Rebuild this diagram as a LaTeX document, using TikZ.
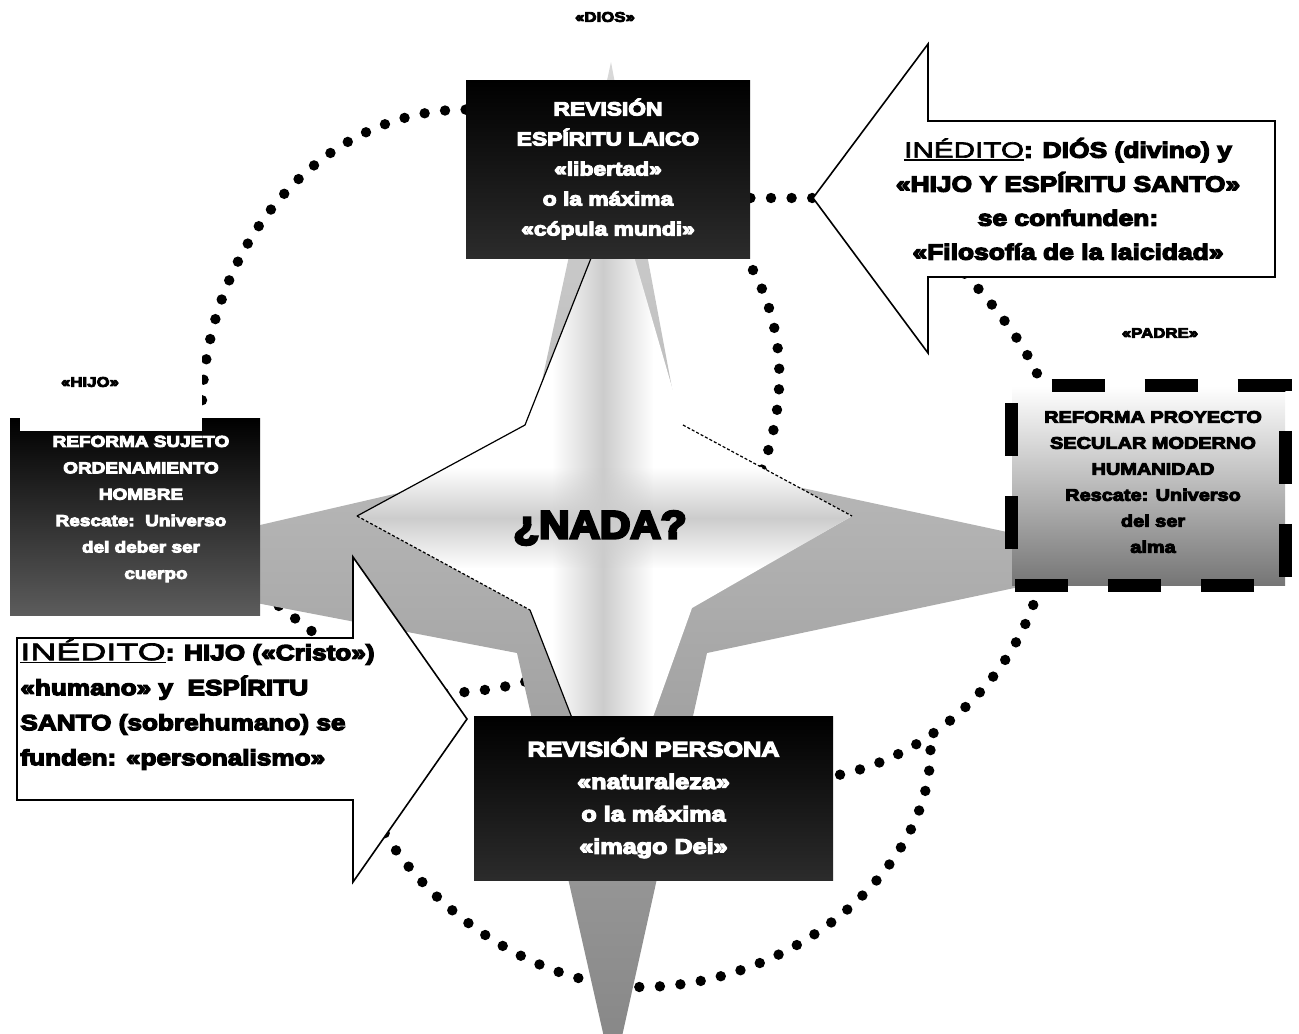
\documentclass[tikz,border=0pt]{standalone}
\usepackage{fontspec}
\setmainfont{Liberation Sans}
\newfontfamily\blk{Liberation Sans}[FakeStretch=1.2,BoldFeatures={FakeBold=6}]
\newfontfamily\nadaf{Liberation Sans}[FakeStretch=1.08,BoldFeatures={FakeBold=7}]
\newfontfamily\inedl{Liberation Sans}[FakeStretch=1.5,UprightFeatures={FakeBold=3}]
\newfontfamily\inedr{Liberation Sans}[FakeStretch=1.35,UprightFeatures={FakeBold=3}]
\usetikzlibrary{fadings}
\newsavebox\ulbox
\newcommand\myul[1]{\sbox\ulbox{#1}\rlap{\rule[-1.6pt]{\wd\ulbox}{0.9pt}}\usebox\ulbox}
\definecolor{gtop}{gray}{0.85}
\definecolor{gbot}{gray}{0.52}
\definecolor{dk}{gray}{0.17}
\definecolor{lbot}{gray}{0.36}
\definecolor{rbot}{gray}{0.46}
\pgfdeclarelayer{dotl}
\pgfdeclarelayer{starl}
\pgfsetlayers{dotl,starl,main}
\tikzfading[name=hband,left color=transparent!100,right color=transparent!100,middle color=transparent!0]
\tikzfading[name=vband,top color=transparent!100,bottom color=transparent!100,middle color=transparent!0]
\begin{document}
\begin{tikzpicture}[x=0.5pt,y=-0.5pt,
  dots/.style={line width=5.2pt,line cap=round,dash pattern=on 0pt off 10.3pt},
  darkbox/.style={rectangle,inner sep=0pt,top color=black,bottom color=dk,text=white,align=center},
  arrowshape/.style={draw=black,line width=0.8pt,fill=white,line join=miter},
  lbl/.style={font=\blk\bfseries\fontsize{7}{8}\selectfont,inner sep=0pt},
  txt/.style={align=center,inner sep=0pt},
  starline/.style={draw=black,line width=0.6pt},
]
\useasboundingbox (0,0) rectangle (1299,1033);

% ---------- star (background layer) ----------
\begin{pgfonlayer}{starl}
\shade[top color=gtop,bottom color=gbot] (611,62) -- (686,463) -- (1142,561) -- (707,653) -- (613,1077) -- (517,653) -- (74,568) -- (524,464) -- cycle;
\begin{scope}
\clip (616,195) -- (683,425) -- (852,516) -- (692,608) -- (614,826) -- (530,610) -- (357,516) -- (525,425) -- cycle;
\fill[white] (300,150) rectangle (900,900);
\fill[gray!40,path fading=hband] (553,150) rectangle (653,900);
\fill[gray!40,path fading=vband] (300,468) rectangle (900,568);
\end{scope}
\draw[starline] (357,516) -- (525,425) -- (616,195);
\draw[starline,dash pattern=on 1.5pt off 1pt] (683,425) -- (852,516);
\draw[starline,dash pattern=on 1.5pt off 1pt] (357,516) -- (530,610);
\draw[starline] (530,610) -- (614,826);
\end{pgfonlayer}

\node[font=\nadaf\bfseries\fontsize{19.5}{22}\selectfont,inner sep=0pt] (nada) at (600,528) {¿NADA?};

% ---------- boxes ----------
\node[darkbox,minimum width=142pt,minimum height=89pt,font=\blk\bfseries\fontsize{9.5}{15}\selectfont] (top) at (608,169)
  {REVISIÓN\\ESPÍRITU LAICO\\«libertad»\\o la máxima\\«cópula mundi»};

\node[darkbox,bottom color=lbot,minimum width=125pt,minimum height=98.5pt] (lbox) at (135,516.5) {};
\node[txt,text=white,font=\blk\bfseries\fontsize{7.9}{13.2}\selectfont] (ltxt) at (141,509)
  {REFORMA SUJETO\\ORDENAMIENTO\\HOMBRE\\Rescate:\ \ Universo\\del deber ser\\\hspace*{15pt}cuerpo};
\node[fill=white,inner sep=0pt,minimum width=91pt,minimum height=40.5pt] (hbox) at (111,390.5) {};
\node[lbl] (hijo) at (90,382) {«HIJO»};

\node[rectangle,inner sep=0pt,top color=white,bottom color=rbot,minimum width=136.5pt,minimum height=99.5pt] (rbox) at (1148.5,485.5) {};
\draw[line width=6.5pt,dash pattern=on 26.5pt off 20pt,dash phase=26.5pt]
  (rbox.north west) -- (rbox.north east) -- (rbox.south east) -- (rbox.south west) -- cycle;
\node[txt,font=\blk\bfseries\fontsize{8.3}{13}\selectfont] (rtxt) at (1153,482)
  {REFORMA PROYECTO\\SECULAR MODERNO\\HUMANIDAD\\Rescate: Universo\\del ser\\alma};
\node[lbl] (padre) at (1160,333) {«PADRE»};
\node[lbl] (dios) at (605,17) {«DIOS»};

\node[darkbox,minimum width=179.5pt,minimum height=82pt,font=\blk\bfseries\fontsize{10.5}{16.2}\selectfont] (bot) at (653.5,798)
  {REVISIÓN PERSONA\\«naturaleza»\\o la máxima\\«imago Dei»};

% ---------- arrows ----------
\draw[arrowshape] (813,198) coordinate (rtip) -- (928,44) -- (928,121) -- (1275,121) -- (1275,277) -- (928,277) -- (928,353) -- cycle;
\node[txt,font=\blk\bfseries\fontsize{11}{17}\selectfont] (rtxt2) at (1068,199)
  {{\inedr\mdseries\fontsize{11}{17}\selectfont\myul{INÉDITO}}: DIÓS (divino) y\\«HIJO Y ESPÍRITU SANTO»\\se confunden:\\«Filosofía de la laicidad»};

\draw[arrowshape] (17,638) -- (353,638) -- (353,557) -- (467,719) coordinate (ltip) -- (353,882) -- (353,800) -- (17,800) -- cycle;
\node[txt,align=left,anchor=west,font=\blk\bfseries\fontsize{10.9}{17.5}\selectfont] (ltxt2) at (20,704.5)
  {{\inedl\mdseries\fontsize{12}{17.5}\selectfont\myul{INÉDITO}}: HIJO («Cristo»)\\«humano» y\ \ ESPÍRITU\\SANTO (sobrehumano) se\\funden: «personalismo»};

% ---------- dotted connectors ----------
\coordinate (cc1) at (440,693);
\coordinate (d0) at (935,245);
\coordinate (g1) at (352,662);
\coordinate (h0) at (375,815);
\coordinate (h1) at (930,738);
\begin{pgfonlayer}{dotl}
\draw[dots] ([yshift=-15pt]top.north west) arc[start angle=90,end angle=180,x radius=132pt,y radius=154pt];
\draw[dots] (top.east |- rtip) -- (rtip);
\draw[dots] ([xshift=-4pt,yshift=3pt]top.south east) .. controls (860,430) and (680,693) .. (cc1);
\draw[dots] (d0) .. controls (990,295) and (1030,350) .. ([xshift=16pt,yshift=-2pt]rbox.north west);
\draw[dots] ([xshift=14pt]rbox.south west) .. controls (1010,690) and (920,760) .. ([yshift=11pt]bot.east);
\draw[dots] ([xshift=1pt,yshift=11pt]lbox.south east) -- (g1);
\draw[dots] (h0) .. controls (410,890) and (520,985) .. (640,987) .. controls (800,987) and (940,860) .. (h1);
\end{pgfonlayer}
\end{tikzpicture}
\end{document}
